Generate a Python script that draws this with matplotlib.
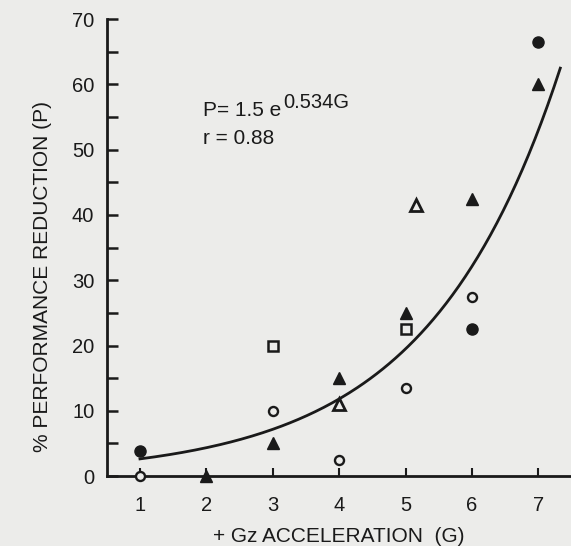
import numpy as np
import matplotlib
matplotlib.use("Agg")
import matplotlib.pyplot as plt

# Data
filled_circle_g = [1, 6, 7]
filled_circle_p = [3.8, 22.5, 66.5]
open_circle_g = [1, 3, 4, 5, 6]
open_circle_p = [0, 10, 2.5, 13.5, 27.5]
filled_tri_g = [2, 3, 4, 5, 6, 7]
filled_tri_p = [0, 5, 15, 25, 42.5, 60]
open_tri_g = [4, 5.15]
open_tri_p = [11, 41.5]
open_sq_g = [3, 5]
open_sq_p = [20, 22.5]

# Fitted curve as drawn
curve_a = 1.6
curve_b = 0.5
curve_g_range = [1.0, 7.33]

x_ticks = [1, 2, 3, 4, 5, 6, 7]
y_ticks = [0, 10, 20, 30, 40, 50, 60, 70]
y_minor = [5, 15, 25, 35, 45, 55, 65]

ink = "#1a1a1a"
bg = "#ececea"

plt.rcParams['font.family'] = ['Liberation Sans', 'DejaVu Sans']

fig = plt.figure(figsize=(5.71, 5.46), dpi=100, facecolor=bg)
ax = fig.add_axes([0.187, 0.128, 0.814, 0.837])
ax.set_facecolor(bg)

ax.set_xlim(0.5, 7.5)
ax.set_ylim(0, 70)

g = np.linspace(curve_g_range[0], curve_g_range[1], 200)
ax.plot(g, curve_a * np.exp(curve_b * g), color=ink, lw=2.0, zorder=2)

kw = dict(linestyle='none', clip_on=False, zorder=3)
ax.plot(filled_circle_g, filled_circle_p, marker='o', ms=8, mfc=ink, mec=ink, **kw)
ax.plot(open_circle_g, open_circle_p, marker='o', ms=6.5, mfc=bg, mec=ink, mew=1.7, **kw)
ax.plot(filled_tri_g, filled_tri_p, marker='^', ms=8.5, mfc=ink, mec=ink, **kw)
ax.plot(open_tri_g, open_tri_p, marker='^', ms=8.5, mfc=bg, mec=ink, mew=2.0, **kw)
ax.plot(open_sq_g, open_sq_p, marker='s', ms=7, mfc=bg, mec=ink, mew=1.8, **kw)

for s in ['top', 'right']:
    ax.spines[s].set_visible(False)
for s in ['left', 'bottom']:
    ax.spines[s].set_color(ink)
    ax.spines[s].set_linewidth(2.0)

ax.set_xticks(x_ticks)
ax.set_yticks(y_ticks)
ax.set_yticks(y_minor, minor=True)
ax.tick_params(axis='x', direction='in', length=6, width=1.5, colors=ink,
               labelsize=14.5, pad=14)
ax.tick_params(axis='y', which='both', direction='in', length=8, width=1.8,
               colors=ink, labelsize=14.5, pad=9)
ax.tick_params(axis='x', which='minor', bottom=False)

ax.set_xlabel('+ Gz ACCELERATION  (G)', fontsize=15, color=ink, labelpad=9)
ax.set_ylabel('% PERFORMANCE REDUCTION (P)', fontsize=15, color=ink)
ax.yaxis.set_label_coords(-0.118, 0.437)

t1 = ax.text(1.95, 55.1, 'P= 1.5 e', fontsize=15, color=ink, va='baseline')
ax.text(1.95, 50.9, 'r = 0.88', fontsize=15, color=ink, va='baseline')
fig.canvas.draw()
bb = t1.get_window_extent()
base_px = ax.transData.transform((1.95, 55.1))[1]
fig.text((bb.x1 + 2) / fig.bbox.width, (base_px + 8) / fig.bbox.height,
         '0.534G', fontsize=14.5, color=ink, va='baseline', ha='left')

fig.savefig('out.png', dpi=100, facecolor=bg)
